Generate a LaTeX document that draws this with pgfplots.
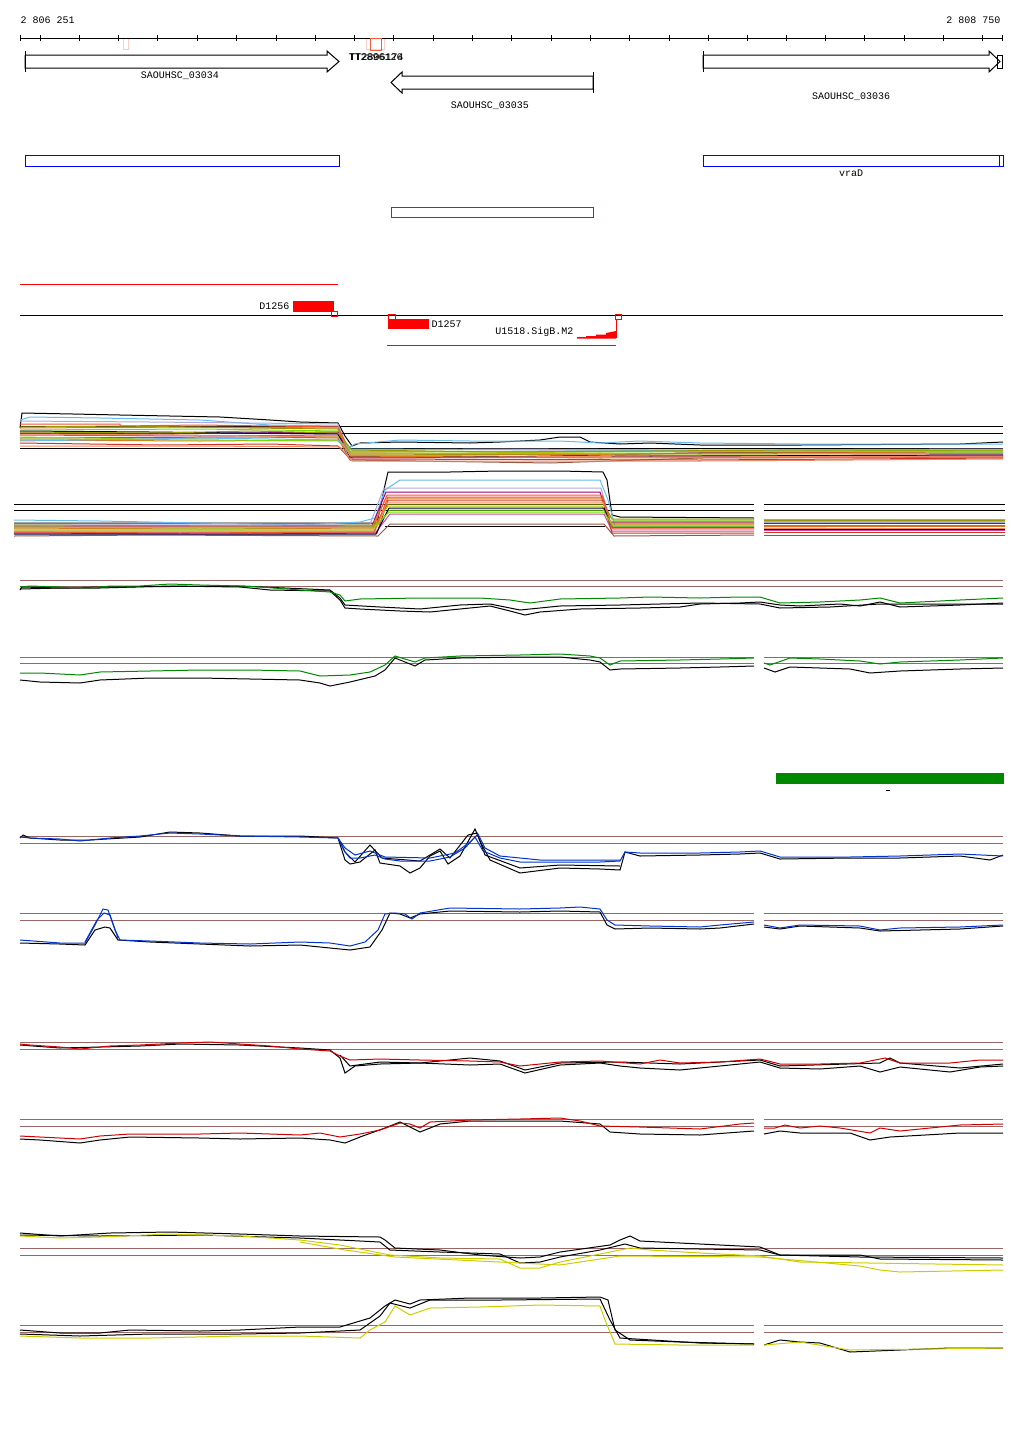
\documentclass[border=0pt]{standalone}
\usepackage{fontspec}
\setmainfont{Liberation Mono}
\usepackage{pgfplots}
\pgfplotsset{compat=1.18}

\definecolor{cA}{HTML}{66BBEE}
\definecolor{cB}{HTML}{EE5533}
\definecolor{cC}{HTML}{999900}
\definecolor{cD}{HTML}{77DD00}
\definecolor{cE}{HTML}{990088}
\definecolor{cF}{HTML}{CC44AA}
\definecolor{cG}{HTML}{AAAADD}
\definecolor{cH}{HTML}{995544}
\definecolor{cI}{HTML}{000044}
\definecolor{cJ}{HTML}{DD7722}
\definecolor{cK}{HTML}{CC3322}
\definecolor{cL}{HTML}{AACC00}
\definecolor{cM}{HTML}{EE8866}
\definecolor{refl}{HTML}{996666}
\definecolor{gline}{HTML}{008800}
\definecolor{bline}{HTML}{0033CC}
\definecolor{rline}{HTML}{CC0000}
\definecolor{yline}{HTML}{CCCC00}
\definecolor{pale}{HTML}{F8D0C8}
\definecolor{orbox}{HTML}{F06040}
\definecolor{boxred}{HTML}{FF0000}

\begin{document}
\begin{tikzpicture}
\begin{axis}[
    width=1024pt, height=1435pt, scale only axis,
    xmin=0, xmax=1024, ymin=0, ymax=1435, y dir=reverse,
    hide axis, clip=false,
    unbounded coords=jump,
    every axis plot/.append style={line width=1pt, mark=none},
    every node/.style={font=\fontsize{9.8}{10}\selectfont, inner sep=0pt},
]
% page frame
\addplot[draw=none] coordinates {(0,0)(1024,1435)};

% ruler
\addplot[black] coordinates {(20,38)(1003,38)};
\addplot[black] coordinates {
 (20,35)(20,41)(20,nan) (40,35)(40,41)(40,nan) (79,35)(79,41)(79,nan)
 (118,35)(118,41)(118,nan) (157,35)(157,41)(157,nan) (197,35)(197,41)(197,nan)
 (236,35)(236,41)(236,nan) (276,35)(276,41)(276,nan) (315,35)(315,41)(315,nan)
 (354,35)(354,41)(354,nan) (393,35)(393,41)(393,nan) (433,35)(433,41)(433,nan)
 (472,35)(472,41)(472,nan) (511,35)(511,41)(511,nan) (551,35)(551,41)(551,nan)
 (590,35)(590,41)(590,nan) (629,35)(629,41)(629,nan) (669,35)(669,41)(669,nan)
 (708,35)(708,41)(708,nan) (747,35)(747,41)(747,nan) (786,35)(786,41)(786,nan)
 (825,35)(825,41)(825,nan) (864,35)(864,41)(864,nan) (904,35)(904,41)(904,nan)
 (943,35)(943,41)(943,nan) (982,35)(982,41)(982,nan) (1002,35)(1002,41)};
\node[anchor=west] at (axis cs:17,20) {2 806 251};
\node[anchor=east] at (axis cs:1004,20) {2 808 750};
\addplot[pale] coordinates {(123,39)(123,49)(128,49)(128,39)};
\addplot[pale] coordinates {(366,39)(366,49)(384,49)(384,39)};
\addplot[orbox] coordinates {(370,38)(370,50)(381,50)(381,38)(370,38)};
\node[anchor=west] at (axis cs:345,57) {TT2896126};
\node[anchor=west] at (axis cs:346,57) {TT2806174};

% genes
\addplot[black, fill=white] coordinates {(25,55)(327,55)(327,51)(339,61.5)(327,72)(327,68)(25,68)(25,55)};
\addplot[black] coordinates {(25,51)(25,72)};
\node at (axis cs:180,76) {SAOUHSC\_03034};
\addplot[black, fill=white] coordinates {(593,76)(402,76)(402,72)(391,82.5)(402,93)(402,89)(593,89)(593,76)};
\addplot[black] coordinates {(593,72)(593,93)};
\node at (axis cs:490,106) {SAOUHSC\_03035};
\addplot[black, fill=white] coordinates {(703,55)(989,55)(989,51)(1000,61.5)(989,72)(989,68)(703,68)(703,55)};
\addplot[black] coordinates {(703,51)(703,72)};
\addplot[black] coordinates {(997,55)(1002,55)(1002,68)(997,68)(997,55)};
\node at (axis cs:851,97) {SAOUHSC\_03036};

% blue / red boxes
\addplot[draw=blue] coordinates {(25,155)(339,155)(339,166)(25,166)(25,155)};
\addplot[draw=blue] coordinates {(703,155)(1003,155)(1003,166)(703,166)(703,155)};
\addplot[draw=blue] coordinates {(999,155)(999,166)};
\node at (axis cs:851,173) {vraD};
\addplot[draw=boxred] coordinates {(391,207)(593,207)(593,217)(391,217)(391,207)};

% features
\addplot[draw=boxred] coordinates {(20,284)(338,284)};
\addplot[black] coordinates {(20,315)(1003,315)};
\addplot[fill=boxred, draw=none] coordinates {(293,301)(334,301)(334,312)(293,312)};
\node[anchor=east] at (axis cs:293,306) {D1256};
\addplot[draw=boxred, line width=0.8pt] coordinates {(331,311)(337,311)(337,316)(331,316)(331,311)};
\addplot[fill=boxred, draw=none] coordinates {(388,319)(429,319)(429,329)(388,329)};
\addplot[draw=boxred, line width=0.8pt] coordinates {(388,314)(395,314)(395,319)(388,319)(388,314)};
\node[anchor=west] at (axis cs:428,324) {D1257};
\node[anchor=east] at (axis cs:577,332) {U1518.SigB.M2};
\addplot[fill=boxred, draw=none] coordinates {(577,338.5)(577,337)(586,337)(586,336)(596,336)(596,334.5)(606,334.5)(606,333)(616,331)(616,338.5)(577,338.5)};
\addplot[draw=boxred] coordinates {(616,319)(616,338)};
\addplot[draw=boxred, line width=0.8pt] coordinates {(615,314)(621,314)(621,319)(615,319)(615,314)};
\addplot[draw=boxred] coordinates {(387,345)(616,345)};

% ---------- multi-sample track A ----------
\addplot[black] coordinates {(20,426)(1003,426)};
\addplot[black] coordinates {(20,433)(1003,433)};
\addplot[black] coordinates {(20,448)(1003,448)};
\addplot[black] coordinates {(20,428)(22,413)(73,414)(120,415)(170,416)(220,417)(270,420)(300,422)(338,423)(345,436)(352,446)(360,443)(400,442)(470,443)(500,442)(540,440)(560,437)(580,437)(590,442)(620,444)(650,443)(700,445)(800,445)(960,444)(1003,442)};
\addplot[cA] coordinates {(20,420)(30,417)(100,418)(200,420)(270,425)(338,426)(348,448)(355,444)(400,440)(470,441)(560,441)(600,443)(640,441)(700,443)(800,444)(1003,444)};
\addplot[cG] coordinates {(20,421)(150,422)(250,423)(338,424)(348,450)(500,449)(700,450)(1003,449)};
\addplot[cB] coordinates {(20,424)(120,424)(120,426)(200,425)(338,427)(350,452)(600,451)(700,452)(1003,453)};
\addplot[cC] coordinates {(20,427)(120,426)(250,428)(338,429)(350,455)(600,454)(800,452)(1003,451)};
\addplot[cD] coordinates {(20,430)(200,429)(338,431)(350,451)(600,452)(1003,450)};
\addplot[cE] coordinates {(20,433)(150,434)(338,432)(350,456)(500,457)(700,453)(1003,454)};
\addplot[cF] coordinates {(20,435)(200,436)(338,435)(352,458)(600,457)(1003,456)};
\addplot[cH] coordinates {(20,438)(250,437)(338,438)(350,460)(550,463)(700,458)(1003,457)};
\addplot[cJ] coordinates {(20,440)(200,441)(338,440)(350,453)(650,455)(1003,455)};
\addplot[cK] coordinates {(20,443)(160,445)(270,444)(338,446)(350,459)(700,460)(1003,458)};
\addplot[cL] coordinates {(20,437)(150,439)(338,436)(350,454)(700,451)(1003,452)};
\addplot[cM] coordinates {(20,446)(200,446)(340,447)(352,461)(700,461)(1003,459)};
\addplot[cI] coordinates {(20,431)(150,432)(338,434)(350,457)(700,456)(1003,455)};
\addplot[cA] coordinates {(20,441)(200,438)(338,440)(350,449)(1003,452)};
\addplot[cC] coordinates {(20,432)(160,433)(250,431)(338,433)(352,450)(500,452)(800,450)(1003,450)};
\addplot[cJ] coordinates {(20,428)(200,427)(338,428)(350,456)(600,458)(1003,457)};
\addplot[cD] coordinates {(20,439)(220,440)(338,441)(350,453)(700,454)(1003,453)};
\addplot[cM] coordinates {(20,434)(180,435)(338,437)(350,455)(650,457)(1003,456)};

% ---------- multi-sample track B ----------
\addplot[black] coordinates {(14,504)(754,504)};
\addplot[black] coordinates {(14,510)(754,510)};
\addplot[black] coordinates {(764,504)(1005,504)};
\addplot[black] coordinates {(764,510)(1005,510)};
\addplot[black] coordinates {(385,526)(605,526)};
\addplot[black] coordinates {(14,523)(377,523)(385,485)(388,472)(450,472)(500,471)(560,471)(603,472)(607,480)(612,515)(620,517)(754,518)};
\addplot[cA] coordinates {(14,520)(100,521)(200,523)(300,525)(360,522)(375,518)(385,490)(400,480)(600,480)(608,500)(615,526)(754,527)};
\addplot[cA] coordinates {(764,527)(1005,526)};
\addplot[cG] coordinates {(14,524)(370,524)(384,488)(601,488)(610,521)(754,521)};
\addplot[cE] coordinates {(14,526)(372,526)(386,492)(600,492)(609,522)(754,522)};
\addplot[cB] coordinates {(14,528)(200,529)(373,528)(387,495)(602,495)(611,524)(754,524)};
\addplot[cC] coordinates {(14,525)(250,526)(375,525)(388,504)(604,504)(612,519)(754,519)};
\addplot[cD] coordinates {(14,530)(374,530)(389,510)(603,510)(613,520)(754,520)};
\addplot[cF] coordinates {(14,532)(376,532)(390,514)(604,514)(612,531)(754,531)};
\addplot[cH] coordinates {(14,536)(150,535)(378,536)(390,524)(604,524)(614,536)(754,535)};
\addplot[cJ] coordinates {(14,527)(372,527)(386,498)(602,498)(610,523)(754,523)};
\addplot[cK] coordinates {(14,533)(250,534)(377,533)(388,500)(603,500)(612,533)(754,533)};
\addplot[cL] coordinates {(14,529)(373,529)(388,506)(602,506)(611,525)(754,525)};
\addplot[cM] coordinates {(14,531)(375,531)(387,502)(603,502)(613,529)(754,529)};
\addplot[cI] coordinates {(14,534)(376,534)(389,508)(604,508)(612,527)(754,527)};
\addplot[cB] coordinates {(14,532)(180,533)(374,532)(388,497)(603,497)(612,528)(754,528)};
\addplot[cD] coordinates {(14,527)(220,528)(375,527)(389,512)(604,512)(613,526)(754,526)};
\addplot[cG] coordinates {(764,522)(1005,522)};
\addplot[cE] coordinates {(764,523)(1005,523)};
\addplot[cB] coordinates {(764,525)(1005,525)};
\addplot[cC] coordinates {(764,520)(1005,520)};
\addplot[cD] coordinates {(764,519)(1005,519)};
\addplot[cF] coordinates {(764,530)(1005,530)};
\addplot[cH] coordinates {(764,535)(1005,535)};
\addplot[cJ] coordinates {(764,526)(1005,526)};
\addplot[cK] coordinates {(764,532)(1005,532)};
\addplot[cL] coordinates {(764,521)(1005,521)};
\addplot[cM] coordinates {(764,528)(1005,528)};
\addplot[cI] coordinates {(764,529)(1005,529)};

% ---------- green tracks ----------
\addplot[refl] coordinates {(20,580)(1003,580)};
\addplot[refl] coordinates {(20,586)(1003,586)};
\addplot[black] coordinates {(20,590)(22,587)(60,588)(100,588)(170,586)(240,587)(270,590)(330,591)(340,600)(345,608)(360,609)(400,611)(430,612)(470,608)(490,606)(510,611)(525,615)(540,612)(580,609)(640,608)(680,607)(700,604)(740,603)(760,602)(780,605)(800,606)(840,604)(860,606)(880,602)(900,607)(960,605)(1003,603)};
\addplot[black] coordinates {(20,589)(100,587)(240,586)(330,590)(340,598)(345,605)(380,607)(420,609)(460,605)(490,604)(520,610)(560,606)(620,605)(700,603)(760,604)(780,608)(830,607)(880,604)(1003,604)};
\addplot[gline] coordinates {(20,587)(30,586)(60,587)(90,588)(110,586)(140,586)(170,584)(200,585)(240,586)(260,587)(300,590)(330,592)(340,595)(345,601)(360,599)(420,598)(480,598)(510,600)(530,603)(560,599)(620,598)(650,597)(700,598)(740,597)(760,597)(780,603)(820,602)(860,600)(880,598)(900,603)(960,600)(1003,598)};

\addplot[refl] coordinates {(20,657)(754,657)};
\addplot[refl] coordinates {(20,663)(754,663)};
\addplot[refl] coordinates {(764,657)(1003,657)};
\addplot[refl] coordinates {(764,663)(1003,663)};
\addplot[black] coordinates {(20,680)(40,682)(80,683)(100,680)(150,678)(200,678)(250,679)(300,680)(320,683)(330,686)(350,682)(375,676)(385,670)(395,658)(405,662)(415,666)(425,660)(460,658)(520,657)(560,657)(590,660)(600,662)(610,670)(620,669)(680,668)(720,667)(754,666)};
\addplot[black] coordinates {(764,668)(775,672)(790,667)(850,669)(870,673)(900,671)(960,669)(1003,668)};
\addplot[gline] coordinates {(20,673)(40,673)(80,675)(100,672)(150,671)(200,670)(250,670)(300,671)(320,676)(350,675)(370,672)(385,665)(395,656)(405,659)(415,662)(425,658)(460,656)(520,655)(560,654)(590,656)(600,658)(610,665)(620,661)(680,660)(720,659)(754,658)};
\addplot[gline] coordinates {(764,663)(770,665)(790,658)(820,659)(860,661)(880,664)(900,662)(960,660)(1003,658)};

% green bar
\addplot[fill=gline, draw=none] coordinates {(776,773)(1004,773)(1004,784)(776,784)};
\addplot[black] coordinates {(886,790)(890,790)};

% ---------- blue tracks ----------
\addplot[refl] coordinates {(20,836)(1003,836)};
\addplot[refl] coordinates {(20,843)(1003,843)};
\addplot[black] coordinates {(20,838)(23,835)(30,838)(60,840)(90,840)(140,837)(170,832)(200,833)(240,836)(300,836)(338,838)(345,860)(350,864)(360,862)(375,850)(380,863)(400,866)(410,873)(420,868)(430,856)(440,851)(448,864)(460,856)(470,838)(475,829)(481,843)(490,860)(520,873)(560,868)(600,869)(620,870)(625,852)(640,856)(700,855)(740,854)(760,853)(780,859)(850,858)(900,858)(960,856)(990,860)(1003,855)};
\addplot[black] coordinates {(338,838)(345,852)(355,862)(370,845)(382,858)(420,861)(440,849)(450,858)(468,835)(477,833)(485,855)(520,868)(560,865)(620,866)};
\addplot[bline] coordinates {(20,837)(30,838)(60,839)(80,841)(110,838)(140,836)(170,833)(200,834)(240,836)(300,837)(338,838)(345,852)(350,858)(360,858)(375,855)(385,859)(400,861)(430,861)(450,857)(465,848)(475,837)(483,851)(500,858)(520,862)(560,862)(600,862)(620,861)(625,852)(640,853)(700,853)(740,852)(760,851)(780,857)(850,857)(900,856)(960,854)(1003,856)};
\addplot[bline] coordinates {(338,838)(345,848)(355,855)(370,851)(385,857)(430,858)(455,853)(470,842)(478,834)(485,848)(500,856)(540,860)(620,860)};

\addplot[refl] coordinates {(20,913)(754,913)};
\addplot[refl] coordinates {(20,920)(754,920)};
\addplot[refl] coordinates {(764,913)(1003,913)};
\addplot[refl] coordinates {(764,920)(1003,920)};
\addplot[black] coordinates {(20,943)(60,944)(85,945)(95,930)(105,927)(110,928)(118,940)(150,942)(200,944)(250,946)(300,945)(330,948)(350,950)(370,947)(382,930)(390,913)(400,914)(410,918)(420,914)(450,911)(520,912)(560,911)(600,912)(607,925)(615,929)(650,928)(700,929)(720,928)(754,924)};
\addplot[black] coordinates {(764,927)(780,929)(800,926)(860,928)(880,931)(960,929)(1003,926)};
\addplot[bline] coordinates {(20,940)(60,943)(85,943)(95,925)(103,909)(108,910)(115,930)(120,940)(150,941)(200,943)(250,944)(300,942)(330,943)(350,946)(365,942)(378,930)(385,914)(395,913)(405,914)(412,919)(420,913)(450,908)(520,909)(560,908)(580,907)(600,909)(607,920)(615,925)(650,926)(700,927)(720,925)(754,922)};
\addplot[bline] coordinates {(85,942)(97,920)(104,913)(110,915)(118,938)};
\addplot[bline] coordinates {(764,925)(780,928)(800,925)(860,926)(880,930)(900,928)(960,927)(1003,925)};

% ---------- red tracks ----------
\addplot[refl] coordinates {(20,1042)(1003,1042)};
\addplot[refl] coordinates {(20,1049)(1003,1049)};
\addplot[black] coordinates {(20,1045)(60,1048)(100,1047)(140,1046)(180,1044)(240,1045)(300,1048)(330,1050)(340,1058)(345,1073)(355,1066)(380,1064)(420,1063)(470,1065)(500,1064)(525,1073)(560,1065)(600,1063)(620,1066)(640,1068)(680,1070)(720,1066)(760,1062)(780,1068)(820,1069)(860,1066)(880,1072)(900,1067)(950,1072)(980,1067)(1003,1066)};
\addplot[black] coordinates {(340,1055)(350,1066)(380,1062)(420,1063)(470,1058)(500,1061)(525,1070)(560,1063)(620,1062)(680,1064)(720,1062)(760,1060)(780,1066)(880,1063)(890,1058)(900,1063)(960,1068)(1003,1064)};
\addplot[rline] coordinates {(20,1044)(30,1045)(60,1047)(80,1049)(110,1046)(140,1045)(180,1043)(210,1042)(240,1044)(270,1046)(300,1049)(330,1051)(340,1056)(350,1060)(380,1059)(420,1060)(470,1061)(500,1062)(520,1066)(560,1062)(600,1061)(640,1064)(660,1060)(680,1063)(720,1062)(760,1059)(780,1064)(820,1064)(860,1063)(885,1058)(900,1063)(950,1063)(980,1060)(1003,1060)};

\addplot[refl] coordinates {(20,1119)(754,1119)};
\addplot[refl] coordinates {(20,1126)(754,1126)};
\addplot[refl] coordinates {(764,1119)(1003,1119)};
\addplot[refl] coordinates {(764,1126)(1003,1126)};
\addplot[black] coordinates {(20,1139)(40,1140)(80,1143)(100,1140)(130,1137)(200,1138)(240,1139)(300,1138)(330,1140)(345,1143)(360,1137)(385,1128)(400,1122)(410,1127)(420,1132)(440,1124)(470,1121)(520,1121)(560,1121)(600,1124)(610,1132)(640,1134)(700,1135)(740,1132)(754,1131)};
\addplot[black] coordinates {(764,1134)(780,1131)(800,1133)(850,1133)(870,1140)(890,1137)(960,1133)(1003,1133)};
\addplot[rline] coordinates {(20,1136)(40,1137)(60,1138)(80,1139)(100,1136)(130,1134)(200,1134)(240,1133)(300,1135)(320,1133)(340,1137)(360,1134)(380,1130)(400,1123)(410,1124)(420,1128)(430,1122)(470,1120)(520,1119)(560,1118)(580,1121)(600,1126)(640,1127)(700,1129)(740,1124)(754,1123)};
\addplot[rline] coordinates {(764,1128)(775,1128)(785,1125)(800,1128)(820,1126)(840,1128)(870,1133)(880,1128)(900,1131)(960,1125)(1003,1124)};

% ---------- yellow tracks ----------
\addplot[refl] coordinates {(20,1248)(1003,1248)};
\addplot[refl] coordinates {(20,1255)(1003,1255)};
\addplot[black] coordinates {(20,1233)(60,1236)(110,1233)(170,1232)(240,1234)(300,1236)(380,1237)(385,1240)(395,1248)(440,1250)(480,1255)(520,1258)(540,1257)(560,1252)(610,1245)(620,1240)(630,1236)(640,1241)(700,1244)(740,1246)(760,1247)(780,1255)(860,1255)(880,1259)(1003,1260)};
\addplot[black] coordinates {(20,1235)(100,1236)(200,1235)(300,1238)(380,1242)(390,1250)(440,1252)(500,1254)(520,1263)(540,1262)(560,1257)(600,1250)(625,1244)(640,1248)(700,1249)(760,1250)(780,1255)(860,1257)(1003,1258)};
\addplot[yline] coordinates {(20,1236)(60,1238)(100,1237)(170,1234)(240,1236)(300,1240)(340,1245)(390,1255)(440,1258)(500,1259)(520,1268)(540,1268)(560,1262)(610,1252)(630,1248)(650,1250)(700,1253)(760,1256)(800,1262)(870,1263)(1003,1265)};
\addplot[yline] coordinates {(300,1242)(345,1250)(395,1257)(500,1262)(560,1265)(620,1256)(760,1257)(860,1266)(880,1270)(900,1272)(1003,1270)};

\addplot[refl] coordinates {(20,1325)(754,1325)};
\addplot[refl] coordinates {(20,1332)(754,1332)};
\addplot[refl] coordinates {(764,1325)(1003,1325)};
\addplot[refl] coordinates {(764,1332)(1003,1332)};
\addplot[black] coordinates {(20,1330)(60,1333)(100,1333)(130,1330)(200,1331)(240,1330)(300,1327)(340,1327)(370,1318)(385,1306)(395,1300)(410,1304)(420,1300)(470,1298)(540,1298)(600,1297)(608,1300)(615,1330)(630,1340)(680,1342)(754,1344)};
\addplot[black] coordinates {(20,1334)(80,1336)(150,1334)(240,1334)(300,1333)(360,1330)(380,1316)(390,1303)(410,1308)(430,1300)(500,1300)(600,1299)(610,1320)(620,1338)(700,1343)(754,1344)};
\addplot[black] coordinates {(764,1345)(780,1340)(800,1342)(820,1343)(850,1352)(900,1350)(950,1348)(1003,1348)};
\addplot[yline] coordinates {(20,1336)(80,1338)(150,1338)(240,1336)(300,1336)(360,1338)(370,1330)(385,1322)(395,1306)(410,1315)(430,1308)(480,1307)(540,1305)(600,1306)(605,1320)(615,1344)(680,1345)(754,1345)};
\addplot[yline] coordinates {(764,1345)(800,1342)(850,1350)(1003,1348)};

\end{axis}
\end{tikzpicture}
\end{document}
